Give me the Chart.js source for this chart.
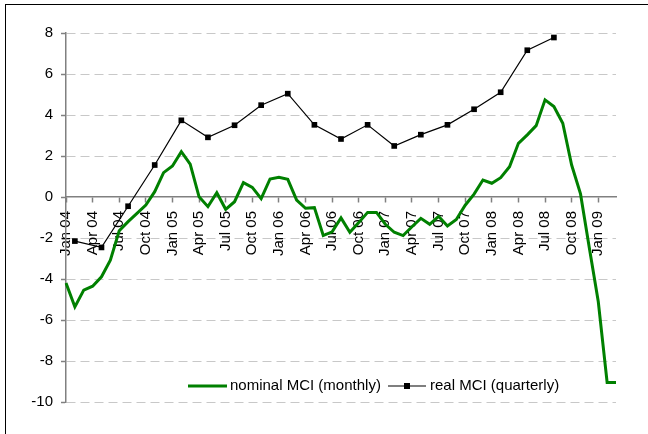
<!DOCTYPE html>
<html>
<head>
<meta charset="utf-8">
<title>MCI</title>
<script src="https://cdn.jsdelivr.net/npm/chart.js@4.4.1/dist/chart.umd.min.js"></script>
<style>
    html, body { margin: 0; padding: 0; background: #fff; overflow: hidden; }
    #wrap { position: relative; width: 648px; height: 434px; overflow: hidden; }
    #frame { position: absolute; left: 5px; top: 4px; width: 700px; height: 500px;
             border-left: 1px solid #000; border-top: 1px solid #000; }
    canvas { position: absolute; left: 0; top: 0; }
</style>
</head>
<body>
<div id="wrap">
    <div id="frame"></div>
    <canvas id="myChart" width="648" height="434"></canvas>
</div>
<script>
// Monthly categories, Jan 04 - Mar 09
const months = [
    'Jan 04', 'Feb 04', 'Mar 04', 'Apr 04', 'May 04', 'Jun 04', 'Jul 04', 'Aug 04', 'Sep 04', 'Oct 04', 'Nov 04', 'Dec 04',
    'Jan 05', 'Feb 05', 'Mar 05', 'Apr 05', 'May 05', 'Jun 05', 'Jul 05', 'Aug 05', 'Sep 05', 'Oct 05', 'Nov 05', 'Dec 05',
    'Jan 06', 'Feb 06', 'Mar 06', 'Apr 06', 'May 06', 'Jun 06', 'Jul 06', 'Aug 06', 'Sep 06', 'Oct 06', 'Nov 06', 'Dec 06',
    'Jan 07', 'Feb 07', 'Mar 07', 'Apr 07', 'May 07', 'Jun 07', 'Jul 07', 'Aug 07', 'Sep 07', 'Oct 07', 'Nov 07', 'Dec 07',
    'Jan 08', 'Feb 08', 'Mar 08', 'Apr 08', 'May 08', 'Jun 08', 'Jul 08', 'Aug 08', 'Sep 08', 'Oct 08', 'Nov 08', 'Dec 08',
    'Jan 09', 'Feb 09', 'Mar 09'
];

// nominal MCI, one value per month
const nominalMCI = [
    -4.2, -5.36, -4.54, -4.35, -3.89, -3.08, -1.65, -1.2, -0.8, -0.39, 0.26, 1.19,
    1.51, 2.21, 1.6, 0.01, -0.47, 0.21, -0.6, -0.23, 0.7, 0.47, -0.08, 0.88,
    0.96, 0.86, -0.15, -0.55, -0.52, -1.88, -1.7, -1.02, -1.72, -1.25, -0.75, -0.75,
    -1.33, -1.72, -1.88, -1.45, -1.04, -1.33, -0.94, -1.41, -1.1, -0.4, 0.14, 0.83,
    0.67, 0.94, 1.48, 2.62, 3.03, 3.48, 4.74, 4.41, 3.6, 1.56, 0.15, -2.5,
    -5.1, -9.05, -9.05
];

// real MCI, quarterly (plotted at the middle month of each quarter)
const realQuarters = [
    'Feb 04', 'May 04', 'Aug 04', 'Nov 04', 'Feb 05', 'May 05', 'Aug 05', 'Nov 05',
    'Feb 06', 'May 06', 'Aug 06', 'Nov 06', 'Feb 07', 'May 07', 'Aug 07', 'Nov 07',
    'Feb 08', 'May 08', 'Aug 08'
];
const realMCI = [
    -2.15, -2.46, -0.45, 1.56, 3.74, 2.91, 3.5, 4.48,
    5.04, 3.52, 2.83, 3.52, 2.49, 3.04, 3.52, 4.28,
    5.11, 7.16, 7.78
];

const yTicks = [-10, -8, -6, -4, -2, 0, 2, 4, 6, 8];

const font = { family: '"Liberation Sans", Arial, sans-serif', size: 15 };

// legend drawn inside the plot, near the bottom
const insideLegend = {
    id: 'insideLegend',
    afterDraw(chart) {
        const ctx = chart.ctx;
        const ds = chart.data.datasets;
        const y = 386;
        ctx.save();
        ctx.font = '15px "Liberation Sans", Arial, sans-serif';
        ctx.textBaseline = 'middle';
        ctx.fillStyle = '#000';

        ctx.strokeStyle = ds[0].borderColor;
        ctx.lineWidth = 3;
        ctx.beginPath();
        ctx.moveTo(188, y);
        ctx.lineTo(227, y);
        ctx.stroke();
        ctx.fillText(ds[0].label, 230, y);

        ctx.strokeStyle = ds[1].borderColor;
        ctx.lineWidth = 1.2;
        ctx.beginPath();
        ctx.moveTo(388, y);
        ctx.lineTo(426, y);
        ctx.stroke();
        ctx.fillRect(404, y - 3, 6, 6);
        ctx.fillText(ds[1].label, 430, y);
        ctx.restore();
    }
};

const ctx = document.getElementById('myChart').getContext('2d');
const myChart = new Chart(ctx, {
    type: 'line',
    data: {
        labels: months,
        datasets: [{
            label: 'nominal MCI (monthly)',
            data: nominalMCI,
            borderColor: '#008000',
            borderWidth: 3,
            pointRadius: 0,
            tension: 0,
            order: 1,
        }, {
            label: 'real MCI (quarterly)',
            data: realQuarters.map((q, i) => ({ x: q, y: realMCI[i] })),
            borderColor: '#000',
            backgroundColor: '#000',
            borderWidth: 1.2,
            pointStyle: 'rect',
            pointRadius: 4,
            pointBackgroundColor: '#000',
            pointBorderWidth: 0,
            tension: 0,
            order: 0,
        }]
    },
    options: {
        responsive: false,
        animation: false,
        layout: { padding: { left: 0, top: 33, right: 32, bottom: 32 } },
        plugins: {
            legend: { display: false },
            tooltip: { enabled: false },
        },
        scales: {
            x: {
                position: { y: 0 },
                offset: false,
                ticks: {
                    autoSkip: false,
                    minRotation: 90,
                    maxRotation: 90,
                    padding: 9,
                    color: '#000',
                    font: font,
                    callback: function (v, i) {
                        return i % 3 === 0 ? this.getLabelForValue(v) : '';
                    },
                },
                grid: {
                    drawOnChartArea: false,
                    drawTicks: true,
                    tickLength: 5,
                    tickWidth: 1.5,
                    tickColor: (c) => (c.index % 3 === 0 ? '#808080' : 'rgba(0,0,0,0)'),
                },
                border: { display: true, color: '#808080', width: 1.5 },
            },
            y: {
                min: yTicks[0],
                max: yTicks[yTicks.length - 1],
                afterBuildTicks: (s) => { s.ticks = yTicks.map(v => ({ value: v })); },
                afterFit: (s) => { s.width = 66; },
                ticks: { color: '#000', font: font, padding: 8 },
                grid: {
                    color: (c) => (c.tick && c.tick.value === 0 ? 'rgba(0,0,0,0)' : '#c8c8c8'),
                    lineWidth: 1,
                    drawTicks: true,
                    tickLength: 5,
                    tickWidth: 1.5,
                    tickColor: '#808080',
                },
                border: { display: true, color: '#808080', width: 1.5, dash: [9, 5] },
            },
        },
    },
    plugins: [insideLegend],
});
</script>
</body>
</html>
